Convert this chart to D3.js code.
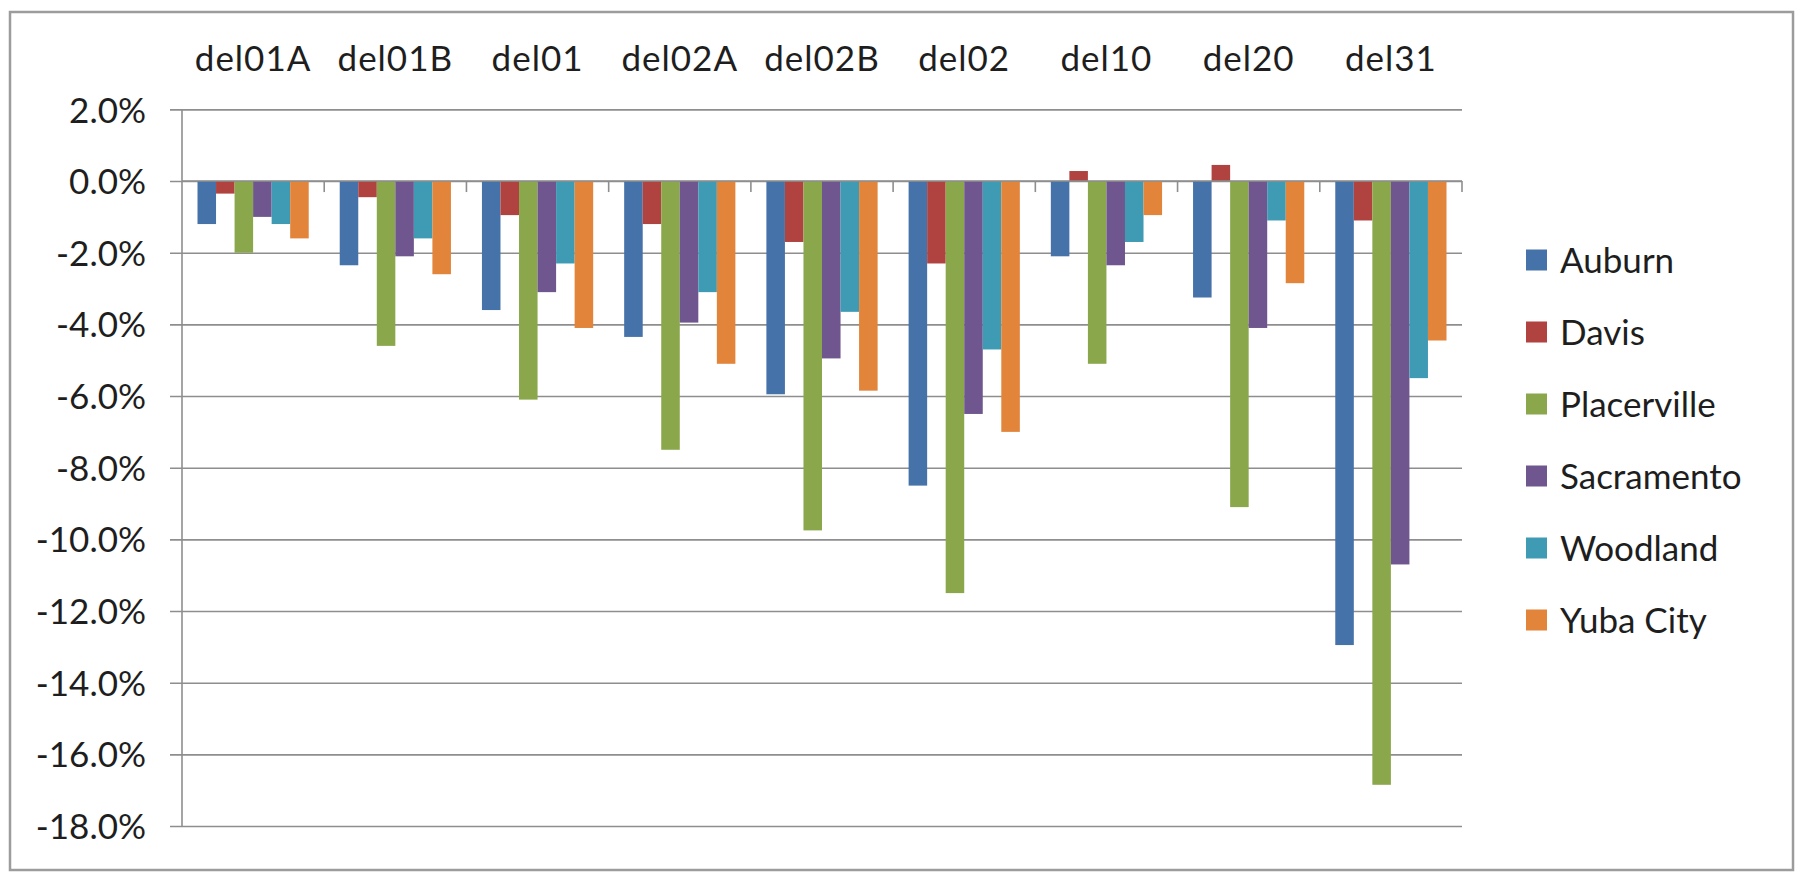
<!DOCTYPE html>
<html>
<head>
<meta charset="utf-8">
<script src="https://cdnjs.cloudflare.com/ajax/libs/d3/7.8.5/d3.min.js"></script>
<style>
  body { margin: 0; background: #fff; }
  svg text { font-family: Lato, "Noto Sans", sans-serif; fill: #1e1e1e; }
</style>
</head>
<body>
<svg id="chart" width="1807" height="883"></svg>
<script>
var categories = ["del01A", "del01B", "del01", "del02A", "del02B", "del02", "del10", "del20", "del31"];
var seriesNames = ["Auburn", "Davis", "Placerville", "Sacramento", "Woodland", "Yuba City"];
var seriesColors = ["#4672aa", "#b0433f", "#8aa84b", "#6f568f", "#3e9bb3", "#e2843a"];

// percent change per category
var auburn      = [-1.2, -2.35, -3.6, -4.35, -5.95, -8.5, -2.1, -3.25, -12.95];
var davis       = [-0.35, -0.45, -0.95, -1.2, -1.7, -2.3, 0.28, 0.45, -1.1];
var placerville = [-2.0, -4.6, -6.1, -7.5, -9.75, -11.5, -5.1, -9.1, -16.85];
var sacramento  = [-1.0, -2.1, -3.1, -3.95, -4.95, -6.5, -2.35, -4.1, -10.7];
var woodland    = [-1.2, -1.6, -2.3, -3.1, -3.65, -4.7, -1.7, -1.1, -5.5];
var yubaCity    = [-1.6, -2.6, -4.1, -5.1, -5.85, -7.0, -0.95, -2.85, -4.45];

var yTicks = [2, 0, -2, -4, -6, -8, -10, -12, -14, -16, -18];

var seriesValues = [auburn, davis, placerville, sacramento, woodland, yubaCity];

var svg = d3.select("#chart");
var plotLeft = 182, plotRight = 1462, plotTop = 109.4, plotBottom = 826;
var axisColor = "#8e8e8e";

// outer frame
svg.append("rect")
  .attr("x", 10).attr("y", 12).attr("width", 1783).attr("height", 858)
  .attr("fill", "#fff").attr("stroke", "#9c9c9c").attr("stroke-width", 2.5);

var y = d3.scaleLinear().domain([-18, 2]).range([plotBottom, plotTop]);
var x0 = d3.scaleBand().domain(categories).range([plotLeft, plotRight]).padding(0);
var pad = 15.5;
var x1 = d3.scaleBand().domain(seriesNames).range([pad, x0.bandwidth() - pad]).padding(0);

// gridlines + y labels
var yAxis = d3.axisLeft(y).tickValues(yTicks).tickSize(plotRight - 170).tickPadding(24)
  .tickFormat(function(d) { return d.toFixed(1) + "%"; });
var gy = svg.append("g").attr("transform", "translate(" + plotRight + ",0)").call(yAxis);
gy.select(".domain").remove();
gy.selectAll("line").attr("stroke", axisColor).attr("stroke-width", 1.6);
gy.selectAll("text").attr("font-size", 35).attr("fill", "#1e1e1e")
  .attr("font-family", "Lato, 'Noto Sans', sans-serif").attr("dy", "0.36em");

// y axis line
svg.append("line")
  .attr("x1", plotLeft).attr("x2", plotLeft).attr("y1", plotTop).attr("y2", plotBottom)
  .attr("stroke", axisColor).attr("stroke-width", 1.6);

// bars
var groups = svg.append("g").selectAll("g")
  .data(categories).join("g")
  .attr("transform", function(c) { return "translate(" + x0(c) + ",0)"; });

groups.selectAll("rect")
  .data(function(c, i) {
    return seriesNames.map(function(s, j) { return { name: s, value: seriesValues[j][i], color: seriesColors[j] }; });
  })
  .join("rect")
  .attr("x", function(d) { return x1(d.name); })
  .attr("y", function(d) { return y(Math.max(0, d.value)); })
  .attr("width", x1.bandwidth())
  .attr("height", function(d) { return Math.abs(y(d.value) - y(0)); })
  .attr("fill", function(d) { return d.color; });

// category axis at zero, ticks pointing down at group boundaries
svg.append("line")
  .attr("x1", plotLeft).attr("x2", plotRight).attr("y1", y(0)).attr("y2", y(0))
  .attr("stroke", axisColor).attr("stroke-width", 1.6);
var bounds = categories.slice(1).map(function(c) { return x0(c); }).concat([plotRight]);
svg.append("g").selectAll("line")
  .data(bounds).join("line")
  .attr("x1", function(d) { return d; }).attr("x2", function(d) { return d; })
  .attr("y1", y(0)).attr("y2", y(0) + 11)
  .attr("stroke", axisColor).attr("stroke-width", 1.6);

// category labels on top
svg.append("g").selectAll("text")
  .data(categories).join("text")
  .attr("x", function(c) { return x0(c) + x0.bandwidth() / 2; })
  .attr("y", 71)
  .attr("text-anchor", "middle")
  .attr("font-size", 35)
  .attr("letter-spacing", 1)
  .text(function(c) { return c; });

// legend
var legend = svg.append("g").selectAll("g")
  .data(seriesNames).join("g")
  .attr("transform", function(d, i) { return "translate(1526," + (260 + i * 72) + ")"; });
legend.append("rect")
  .attr("x", 0).attr("y", -10.5).attr("width", 21).attr("height", 21)
  .attr("fill", function(d, i) { return seriesColors[i]; });
legend.append("text")
  .attr("x", 34).attr("y", 12.5)
  .attr("font-size", 35)
  .text(function(d) { return d; });
</script>
</body>
</html>
